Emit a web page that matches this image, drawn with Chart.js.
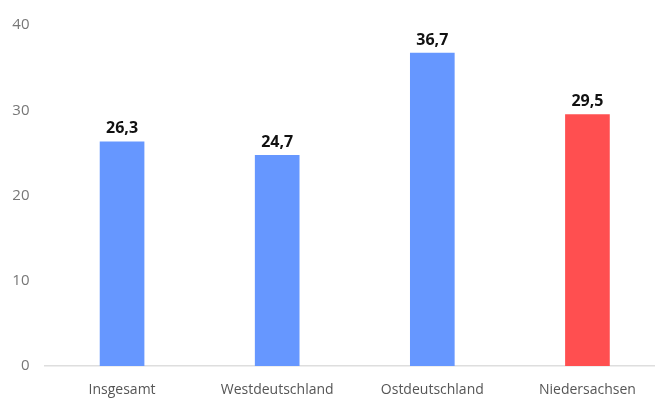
<!DOCTYPE html>
<html>
<head>
<meta charset="utf-8">
<script src="https://cdn.jsdelivr.net/npm/chart.js@4/dist/chart.umd.min.js"></script>
<style>
  html, body { margin: 0; padding: 0; overflow: hidden; background: #fff; }
  #wrap { width: 665px; height: 399px; }
</style>
</head>
<body>
<div id="wrap"><canvas id="chart"></canvas></div>
<script>
const labels = ['Insgesamt', 'Westdeutschland', 'Ostdeutschland', 'Niedersachsen']
const values = [26.3, 24.7, 36.7, 29.5]
const colors = ['#6697ff', '#6697ff', '#6697ff', '#ff4f50']
const yTicks = [0, 10, 20, 30, 40]

// values above bars, German decimal comma
const valueLabels = {
  id: 'valueLabels',
  afterDatasetsDraw(chart) {
    const ctx = chart.ctx
    const meta = chart.getDatasetMeta(0)
    ctx.save()
    ctx.font = 'bold 16px "Open Sans"'
    ctx.fillStyle = '#111'
    ctx.textAlign = 'center'
    ctx.textBaseline = 'bottom'
    meta.data.forEach((bar, i) => {
      ctx.fillText(values[i].toFixed(1).replace('.', ','), bar.x, bar.y - 5)
    })
    ctx.restore()
  }
}

new Chart(document.getElementById('chart'), {
  type: 'bar',
  data: {
    labels,
    datasets: [{
      data: values,
      backgroundColor: colors,
      barThickness: 44,
    }]
  },
  options: {
    responsive: true,
    maintainAspectRatio: false,
    animation: false,
    layout: { padding: { top: 25 } },
    plugins: {
      legend: { display: false },
      tooltip: { enabled: false },
    },
    scales: {
      x: {
        afterFit: s => { s.height = 33 },
        grid: { display: false },
        border: { display: true, color: '#dedede', width: 1.5 },
        ticks: { color: '#555', font: { family: 'Open Sans', size: 14 }, padding: 8 },
      },
      y: {
        min: 0,
        max: 40,
        afterBuildTicks: s => { s.ticks = yTicks.map(v => ({ value: v })) },
        afterFit: s => { s.width = 44.5 },
        grid: { display: false, drawTicks: false },
        border: { display: false },
        ticks: { color: '#777', font: { family: 'Open Sans', size: 15 }, padding: 15 },
      }
    }
  },
  plugins: [valueLabels]
})
</script>
</body>
</html>
